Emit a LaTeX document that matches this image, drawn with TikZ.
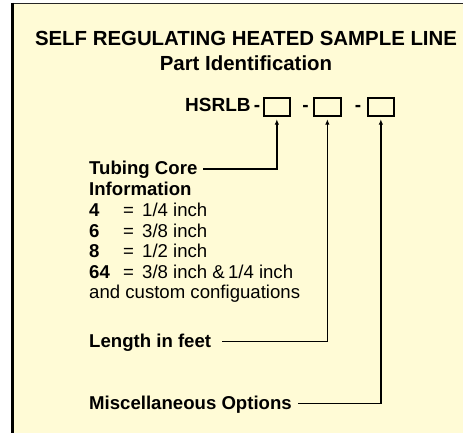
\documentclass[tikz,border=0pt]{standalone}
\usepackage{fontspec}
\setmainfont{Liberation Sans}
\usetikzlibrary{arrows.meta}
\definecolor{cream}{RGB}{255,251,214}
\tikzset{
  lbl/.style={inner sep=0pt, anchor=base west, font=\fontsize{18.6}{19}\selectfont\bfseries},
  body/.style={inner sep=0pt, anchor=base west, font=\fontsize{18.6}{19}\selectfont},
  ttl/.style={inner sep=0pt, anchor=base, font=\fontsize{20.4}{21}\selectfont\bfseries},
  pnf/.style={font=\fontsize{19}{19}\selectfont\bfseries},
  slot/.style={draw, line width=1.7pt, minimum width=26pt, minimum height=18pt, inner sep=0pt, anchor=north west},
  conn/.style={line width=1.6pt, -{Latex[length=5.5pt,width=4.5pt]}, shorten >=2.5pt}
}
\begin{document}
\begin{tikzpicture}[x=1pt,y=-1pt]
\useasboundingbox (0,0) rectangle (463,433);
\fill[cream] (12.5,3.5) rectangle (475,445);
\draw[line width=1.4pt, black!85] (12.5,3.5) -- (475,3.5);
\draw[line width=3pt] (12.5,3) -- (12.5,445);
% title
\node[ttl] (t1) at (246,46) {SELF REGULATING HEATED SAMPLE LINE};
\node[ttl] (t2) at (246,70.5) {Part Identification};
% part number
\node[lbl, pnf] (pn) at (185,112) {HSRLB};
\node[ttl, pnf] (d1) at (257,112) {-};
\node[ttl, pnf] (d2) at (305.5,112) {-};
\node[ttl, pnf] (d3) at (358,112) {-};
\node[slot] (b1) at (263,97) {};
\node[slot, minimum width=27pt] (b2) at (313,97) {};
\node[slot] (b3) at (367,97) {};
% labels
\node[lbl] (tub) at (89,174) {Tubing Core};
\node[lbl] (inf) at (89,195) {Information};
\node[lbl] (n1) at (89,216) {4};
\node[body] (e1) at (123,216) {=};
\node[body] (v1) at (142,216) {1/4 inch};
\node[lbl] (n2) at (89,237) {6};
\node[body] (e2) at (123,237) {=};
\node[body] (v2) at (142,237) {3/8 inch};
\node[lbl] (n3) at (89,257.5) {8};
\node[body] (e3) at (123,257.5) {=};
\node[body] (v3) at (142,257.5) {1/2 inch};
\node[lbl] (n4) at (89,278) {64};
\node[body] (e4) at (123,278) {=};
\node[body] (v4) at (142,278) {3/8 inch \&\,1/4 inch};
\node[body] (cust) at (89,298.5) {and custom configuations};
\node[lbl] (len) at (89,347.7) {Length in feet};
\node[lbl] (misc) at (89,409) {Miscellaneous Options};
% connectors
\coordinate (c1) at (203,169);
\coordinate (c2) at (222,341.5);
\coordinate (c3) at (298,403.3);
\draw[conn] (c1) -| (b1.south);
\draw[conn] (c2) -| (b2.south);
\draw[conn] (c3) -| (b3.south);
\end{tikzpicture}
\end{document}
